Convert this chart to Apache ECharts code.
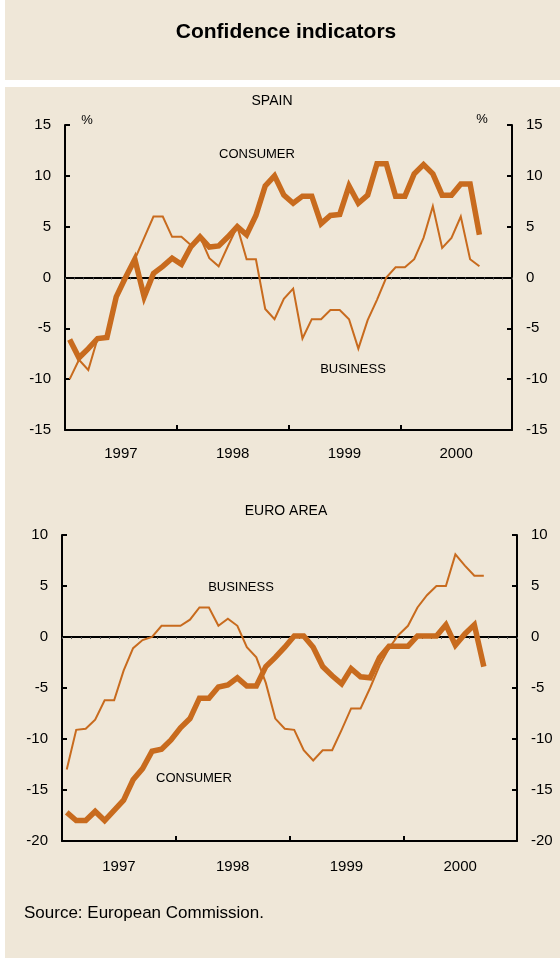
<!DOCTYPE html>
<html><head><meta charset="utf-8">
<script src="https://cdn.jsdelivr.net/npm/echarts@6/dist/echarts.min.js"></script>
<style>html,body{margin:0;padding:0;background:#fff}#c{width:560px;height:958px}</style>
</head><body><div id="c"></div>
<script>
// ---- data ----
const years = ['1997', '1998', '1999', '2000'];
const spainConsumer = [-6.1,-7.9,-7.0,-6.0,-5.9,-1.9,0.0,1.8,-1.9,0.4,
  1.1,1.9,1.3,3.0,4.0,3.0,3.1,4.0,5.0,4.2,
  6.1,9.0,10.0,8.1,7.3,8.0,8.0,5.3,6.1,6.2,
  9.0,7.3,8.1,11.2,11.2,8.0,8.0,10.2,11.1,10.2,
  8.1,8.1,9.2,9.2,4.2];
const spainBusiness = [-10.0,-8.1,-9.1,-6.0,-5.9,-1.9,0.0,1.8,3.9,6.0,
  6.0,4.0,4.0,3.2,4.0,1.9,1.1,3.1,5.0,1.8,
  1.8,-3.1,-4.1,-2.1,-1.1,-6.0,-4.1,-4.1,-3.2,-3.2,
  -4.1,-7.0,-4.2,-2.2,0.0,1.0,1.0,1.8,3.9,7.0,
  2.9,3.9,6.0,1.8,1.1];
const euroConsumer = [-17.2,-18.0,-18.0,-17.1,-18.0,-17.0,-16.0,-14.0,-12.9,-11.2,
  -11.0,-10.1,-8.9,-8.0,-6.0,-6.0,-4.9,-4.7,-4.0,-4.8,
  -4.8,-2.9,-2.0,-1.0,0.1,0.1,-1.0,-2.9,-3.8,-4.6,
  -3.1,-3.9,-4.0,-2.0,-0.9,-0.9,-0.9,0.1,0.1,0.1,
  1.2,-0.8,0.3,1.2,-2.9];
const euroBusiness = [-13.0,-9.1,-9.0,-8.1,-6.2,-6.2,-3.3,-1.1,-0.3,0.0,
  1.1,1.1,1.1,1.7,2.9,2.9,1.1,1.8,1.1,-1.0,
  -2.0,-4.5,-8.0,-9.0,-9.1,-11.1,-12.1,-11.1,-11.1,-9.1,
  -7.0,-7.0,-5.0,-2.8,-1.1,0.2,1.1,2.9,4.1,5.0,
  5.0,8.1,7.0,6.0,6.0];
const spainRange = [-15, 15];
const euroRange = [-20, 10];
const tickStep = 5;

// monthly categories built from the year list
const months = [];
years.forEach(y => { for (let m = 1; m <= 12; m++) months.push(y + '-' + String(m).padStart(2, '0')); });

// ---- styles ----
const FONT = 'Liberation Sans, Arial, sans-serif';
const BEIGE = '#EFE7D8';
const LINE = '#C86B1E';
const BLACK = '#000';

function yearAxis(gridIndex, margin) {
  return {
    type: 'category', gridIndex, data: years, position: 'bottom', boundaryGap: true,
    axisLine: { show: true, onZero: false, lineStyle: { color: BLACK, width: 2 } },
    axisTick: { show: true, inside: true, length: 5, interval: 0, lineStyle: { color: BLACK, width: 2 } },
    axisLabel: { margin, fontSize: 15, color: BLACK, fontFamily: FONT },
    splitLine: { show: false }
  };
}
function monthAxis(gridIndex) {
  return {
    type: 'category', gridIndex, data: months, position: 'bottom', boundaryGap: true,
    axisLine: { show: true, onZero: true, lineStyle: { color: BLACK, width: 2 } },
    axisTick: { show: true, inside: false, length: 2, interval: 0, lineStyle: { color: '#555', width: 1 } },
    axisLabel: { show: false }, splitLine: { show: false }
  };
}
function valAxis(gridIndex, pos, range) {
  return {
    type: 'value', gridIndex, position: pos, min: range[0], max: range[1], interval: tickStep,
    axisLine: { show: true, onZero: false, lineStyle: { color: BLACK, width: 2 } },
    axisTick: { show: true, inside: true, length: 5, lineStyle: { color: BLACK, width: 2 } },
    axisLabel: { margin: 14, fontSize: 15, color: BLACK, fontFamily: FONT },
    splitLine: { show: false }
  };
}
function lineSeries(data, xi, yi, w) {
  return { type: 'line', data, xAxisIndex: xi, yAxisIndex: yi, symbol: 'none', silent: true,
    lineStyle: { color: LINE, width: w, join: 'miter' }, itemStyle: { color: LINE }, animation: false };
}
function txt(text, x, y, size, opts) {
  return Object.assign({ type: 'text', x, y, silent: true, z: 100,
    style: { text, fill: BLACK, font: (opts && opts.bold ? 'bold ' : '') + size + 'px ' + FONT,
      align: (opts && opts.align) || 'center', verticalAlign: 'middle',
      textAlign: (opts && opts.align) || 'center', textVerticalAlign: 'middle' } });
}

const chart = echarts.init(document.getElementById('c'), null, { renderer: 'canvas' });
chart.setOption({
  animation: false,
  backgroundColor: '#fff',
  grid: [
    { left: 65, right: 48, top: 125, height: 305, containLabel: false },
    { left: 62, right: 43, top: 535, height: 306, containLabel: false }
  ],
  xAxis: [yearAxis(0, 16), monthAxis(0), yearAxis(1, 18), monthAxis(1)],
  yAxis: [valAxis(0, 'left', spainRange), valAxis(0, 'right', spainRange),
          valAxis(1, 'left', euroRange), valAxis(1, 'right', euroRange)],
  series: [
    lineSeries(spainBusiness, 1, 0, 2),
    lineSeries(spainConsumer, 1, 0, 5.5),
    lineSeries(euroBusiness, 3, 2, 2),
    lineSeries(euroConsumer, 3, 2, 5.5)
  ],
  graphic: [
    { type: 'rect', shape: { x: 5, y: 0, width: 555, height: 80 }, style: { fill: BEIGE }, z: -100, silent: true },
    { type: 'rect', shape: { x: 5, y: 87, width: 555, height: 871 }, style: { fill: BEIGE }, z: -100, silent: true },
    txt('Confidence indicators', 286, 32, 21, { bold: true }),
    txt('SPAIN', 272, 101, 14),
    txt('%', 87, 120, 13),
    txt('%', 482, 119, 13),
    txt('CONSUMER', 257, 154, 13),
    txt('BUSINESS', 353, 369, 13),
    txt('EURO AREA', 286, 511, 14),
    txt('BUSINESS', 241, 587, 13),
    txt('CONSUMER', 194, 778, 13),
    txt('Source: European Commission.', 24, 913, 17, { align: 'left' })
  ]
});
</script></body></html>
